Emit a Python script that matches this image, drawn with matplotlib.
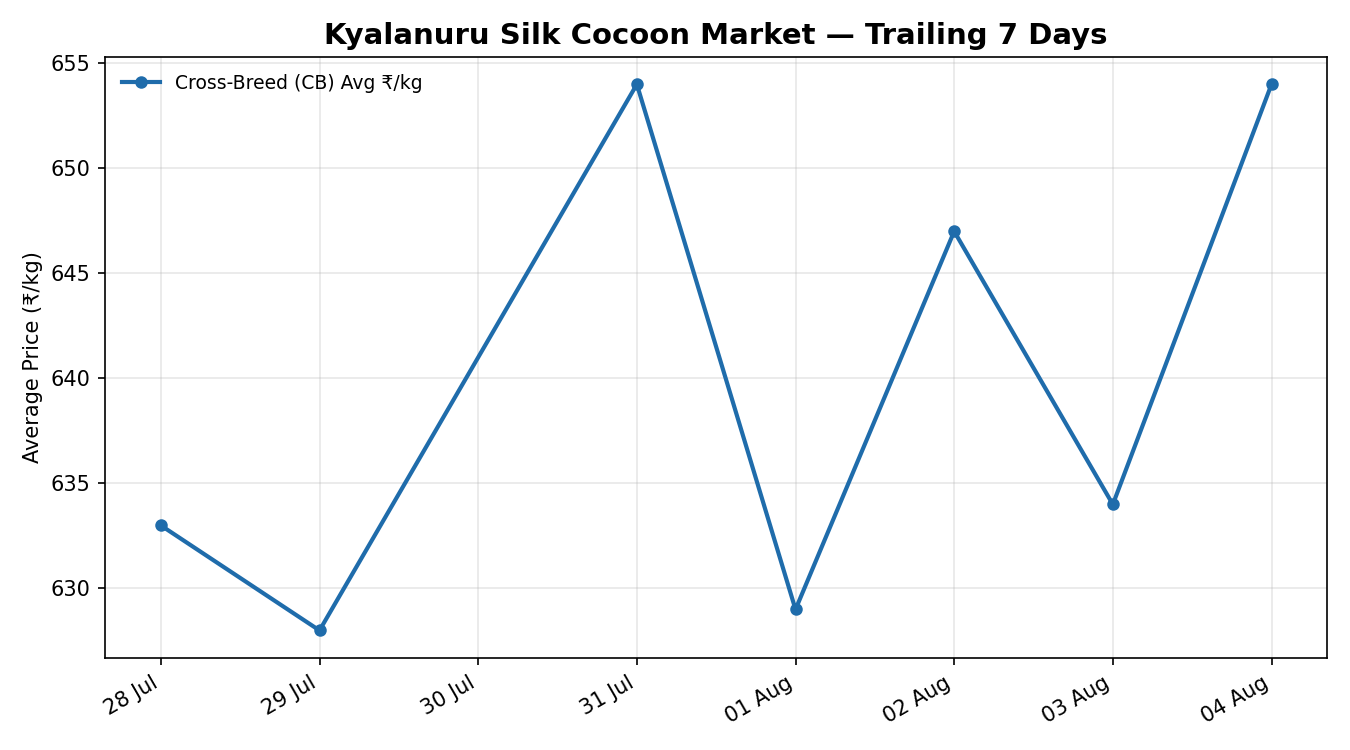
import datetime as dt

import matplotlib
matplotlib.use("Agg")
import matplotlib.pyplot as plt
import matplotlib.dates as mdates

# Daily CB average prices (30 Jul has no data)
dates = ["2024-07-28", "2024-07-29", "2024-07-31", "2024-08-01",
         "2024-08-02", "2024-08-03", "2024-08-04"]
cb_avg = [633, 628, 654, 629, 647, 634, 654]

x = [dt.datetime.strptime(d, "%Y-%m-%d") for d in dates]

fig, ax = plt.subplots(figsize=(9, 5), dpi=150)
ax.plot(x, cb_avg, color="#1f6cab", linewidth=2, marker="o", markersize=5,
        label="Cross-Breed (CB) Avg ₹/kg")

ax.set_title("Kyalanuru Silk Cocoon Market — Trailing 7 Days",
             fontsize=14, fontweight="bold")
ax.set_ylabel("Average Price (₹/kg)", fontsize=10)
ax.grid(True, alpha=0.3)
ax.xaxis.set_major_locator(mdates.DayLocator())
ax.xaxis.set_major_formatter(mdates.DateFormatter("%d %b"))
ax.legend(loc="upper left", frameon=False, fontsize=9)
fig.autofmt_xdate()

fig.subplots_adjust(left=0.078, right=0.983, top=0.924, bottom=0.123)
fig.savefig("out.png", dpi=150)
